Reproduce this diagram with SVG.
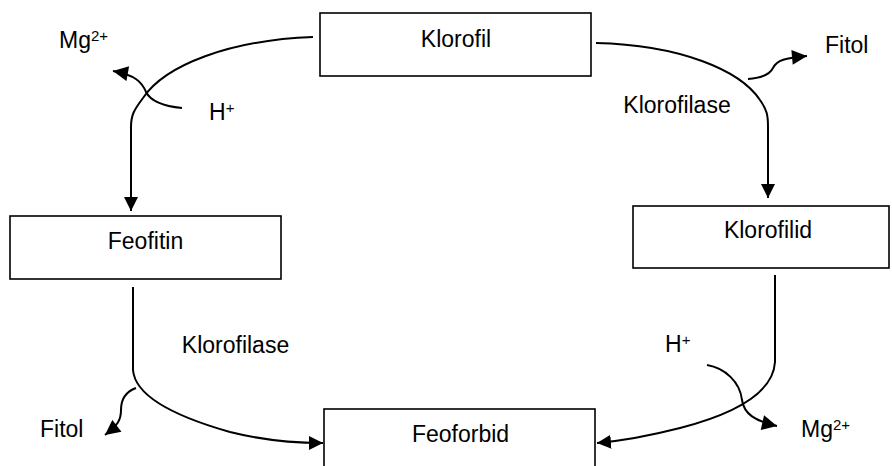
<svg xmlns="http://www.w3.org/2000/svg" width="892" height="466" viewBox="0 0 892 466">
<style>
.box{fill:#fff;stroke:#000;stroke-width:1.6}
.lbl{font-family:"Liberation Sans",Arial,sans-serif;font-size:23px;fill:#000}
.mid{text-anchor:middle}
.sup{font-size:15px}
.ln{fill:none;stroke:#000;stroke-width:2}
</style>
<defs>
<marker id="ah" viewBox="0 0 14 14" refX="14" refY="7" markerWidth="14" markerHeight="14" orient="auto" markerUnits="userSpaceOnUse">
<path d="M0,0 L14,7 L0,14 z" fill="#000"/>
</marker>
<marker id="ahs" viewBox="0 0 14 14" refX="14" refY="7" markerWidth="17" markerHeight="15" orient="auto" markerUnits="userSpaceOnUse">
<path d="M0,0 L14,7 L0,14 z" fill="#000"/>
</marker>
</defs>
<rect width="892" height="466" fill="#fff"/>
<g id="connectors">
<path class="ln" d="M313,37 C230,40 165,65 143,98 C134,110 131,115 131,127 L131,211" marker-end="url(#ah)"/>
<path class="ln" d="M182,108 C162,106 150,100 146,92 C142,82 135,75 113,71" marker-end="url(#ahs)"/>
<path class="ln" d="M596,43 C680,45 740,70 760,100 C767,110 768,115 768,127 L768,198" marker-end="url(#ah)"/>
<path class="ln" d="M748,79 C762,78 770,74 773,68 C777,60 785,58 807,56" marker-end="url(#ahs)"/>
<path class="ln" d="M133,287 L133,370 C135,395 170,415 230,432 C262,440 295,443 323,443" marker-end="url(#ah)"/>
<path class="ln" d="M136,388 C125,392 121,400 121,410 C121,420 118,425 105,435" marker-end="url(#ahs)"/>
<path class="ln" d="M775,275 L775,362 C773,395 730,415 680,428 C645,437 620,441 597,443" marker-end="url(#ah)"/>
<path class="ln" d="M707,365 C725,368 740,382 742,400 C744,414 755,421 777,426" marker-end="url(#ahs)"/>
</g>
<g id="klorofil">
<rect class="box" x="320" y="13" width="271" height="63"/>
<text class="lbl mid" x="456" y="47">Klorofil</text>
</g>
<g id="feofitin">
<rect class="box" x="10" y="216" width="271" height="63"/>
<text class="lbl mid" x="145.5" y="249">Feofitin</text>
</g>
<g id="klorofilid">
<rect class="box" x="633" y="206" width="256" height="62"/>
<text class="lbl mid" x="768" y="238">Klorofilid</text>
</g>
<g id="feoforbid">
<rect class="box" x="324" y="409" width="271" height="70"/>
<text class="lbl mid" x="460.5" y="442">Feoforbid</text>
</g>
<g id="labels">
<text class="lbl" x="59" y="48">Mg<tspan class="sup" dy="-7">2+</tspan></text>
<text class="lbl" x="825" y="53">Fitol</text>
<text class="lbl" x="209" y="120">H<tspan class="sup" dy="-7">+</tspan></text>
<text class="lbl mid" x="677" y="113">Klorofilase</text>
<text class="lbl mid" x="235.5" y="353">Klorofilase</text>
<text class="lbl" x="40" y="437">Fitol</text>
<text class="lbl" x="665" y="352">H<tspan class="sup" dy="-7">+</tspan></text>
<text class="lbl" x="801" y="437">Mg<tspan class="sup" dy="-7">2+</tspan></text>
</g>
</svg>
